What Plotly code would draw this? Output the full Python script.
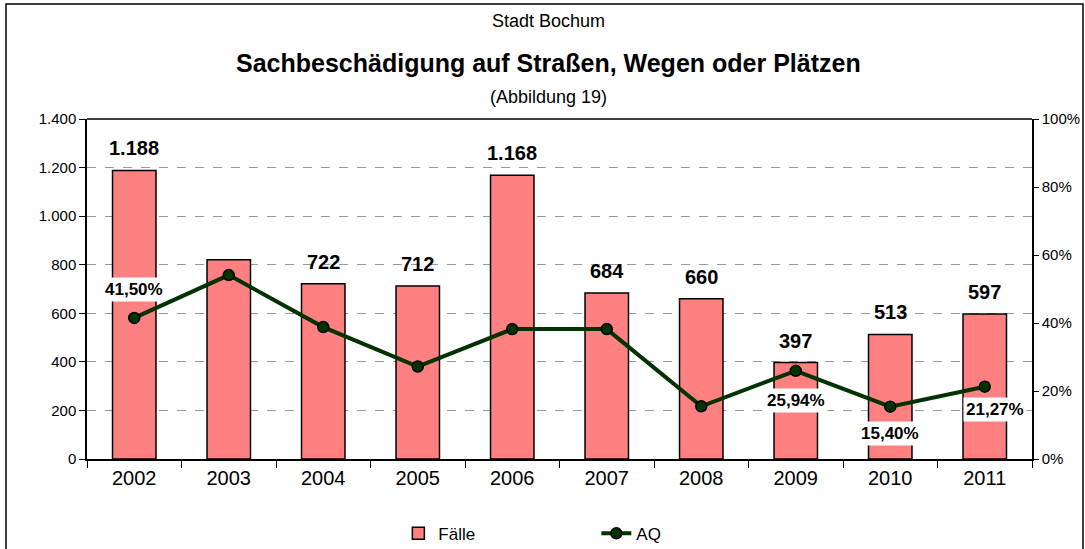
import plotly.graph_objects as go

# ---- data ----
years = ["2002", "2003", "2004", "2005", "2006", "2007", "2008", "2009", "2010", "2011"]
faelle = [1188, 820, 722, 712, 1168, 684, 660, 397, 513, 597]
aq = [41.50, 54.1, 38.8, 27.2, 38.2, 38.2, 15.5, 25.94, 15.40, 21.27]
faelle_labelled = [True, False, True, True, True, True, True, True, True, True]
aq_labelled = [True, False, False, False, False, False, False, True, True, True]
aq_label_shift = [28, 0, 0, 0, 0, 0, 0, -30, -27, -23]
aq_label_xshift = [0, 0, 0, 0, 0, 0, 0, 0, 0, 10]

title_top = "Stadt Bochum"
title_main = "Sachbeschädigung auf Straßen, Wegen oder Plätzen"
title_sub = "(Abbildung 19)"

FONT = "Liberation Sans, Arial, sans-serif"

fig = go.Figure()
fig.add_trace(go.Bar(
    x=years, y=faelle, name="Fälle",
    marker=dict(color="#FF8080", line=dict(color="black", width=1.5)),
    width=0.46,
))
fig.add_trace(go.Scatter(
    x=years, y=[v / 100 for v in aq], name="AQ", yaxis="y2",
    mode="lines+markers",
    line=dict(color="#003300", width=4),
    marker=dict(size=11, color="#003300", line=dict(color="black", width=1.5)),
))

annotations = []
for i, (v, show) in enumerate(zip(faelle, faelle_labelled)):
    if show:
        annotations.append(dict(
            x=i, y=v, xref="x", yref="y", yshift=22, showarrow=False,
            text="<b>" + f"{v:,}".replace(",", ".") + "</b>",
            font=dict(family=FONT, size=20, color="black"),
        ))
for i, (v, show, dy, dx) in enumerate(zip(aq, aq_labelled, aq_label_shift, aq_label_xshift)):
    if show:
        annotations.append(dict(
            x=i, y=v / 100, xref="x", yref="y2", yshift=dy, xshift=dx, showarrow=False,
            text="<b>" + f"{v:.2f}".replace(".", ",") + "%</b>",
            font=dict(family=FONT, size=17, color="black"),
            bgcolor="white", borderpad=2,
        ))

annotations += [
    dict(text=title_top, x=0.488, y=1.0, xref="paper", yref="paper", yshift=98, yanchor="middle",
         showarrow=False, font=dict(family=FONT, size=18, color="black")),
    dict(text="<b>" + title_main + "</b>", x=0.488, y=1.0, xref="paper", yref="paper", yshift=56,
         yanchor="middle", showarrow=False, font=dict(family=FONT, size=25, color="black")),
    dict(text=title_sub, x=0.488, y=1.0, xref="paper", yref="paper", yshift=22, yanchor="middle",
         showarrow=False, font=dict(family=FONT, size=18, color="black")),
]

L, R, T, B = 87, 53, 119, 90
W, H = 1085, 549
pw, ph = W - L - R, H - T - B

shapes = [
    # plot top border
    dict(type="line", xref="paper", yref="paper", x0=0, x1=1, y0=1, y1=1,
         line=dict(color="black", width=1.5)),
    # outer chart border
    dict(type="rect", xref="paper", yref="paper",
         x0=(6 - L) / pw, x1=(1083 - L) / pw,
         y0=(H - B - 560) / ph, y1=(H - B - 4) / ph,
         line=dict(color="black", width=1.5), fillcolor="rgba(0,0,0,0)", layer="above"),
]

fig.update_layout(
    width=W, height=H,
    margin=dict(l=L, r=R, t=T, b=B, autoexpand=False),
    paper_bgcolor="white", plot_bgcolor="white",
    separators=",.",
    font=dict(family=FONT, color="black"),
    showlegend=True,
    legend=dict(orientation="h", x=0.539, xanchor="center", y=-0.22, yanchor="middle",
                font=dict(family=FONT, size=17), entrywidthmode="pixels",
                entrywidth=153),
    xaxis=dict(
        type="category", range=[-0.5, len(years) - 0.5], autorange=False,
        showline=True, linecolor="black", linewidth=1.5,
        ticks="outside", ticklen=7, tickcolor="black", tickson="boundaries",
        tickfont=dict(size=20), showgrid=False, automargin=False, tickangle=0,
    ),
    yaxis=dict(
        range=[0, 1400], dtick=200, tickformat=",.0f",
        showline=True, linecolor="black", linewidth=1.5,
        ticks="outside", ticklen=6, tickcolor="black",
        showgrid=True, gridcolor="#999999", griddash="dash", gridwidth=1,
        tickfont=dict(size=15), zeroline=False, automargin=False,
    ),
    yaxis2=dict(
        range=[0, 1], dtick=0.2, tickformat=".0%", overlaying="y", side="right",
        showline=True, linecolor="black", linewidth=1.5,
        ticks="outside", ticklen=5, tickcolor="black",
        showgrid=False, zeroline=False, tickfont=dict(size=15), automargin=False,
    ),
    annotations=annotations,
    shapes=shapes,
)

fig.write_html(
    "out.html",
    config={"displayModeBar": False},
    post_script="document.body.style.margin='0';document.body.style.overflow='hidden';",
)
